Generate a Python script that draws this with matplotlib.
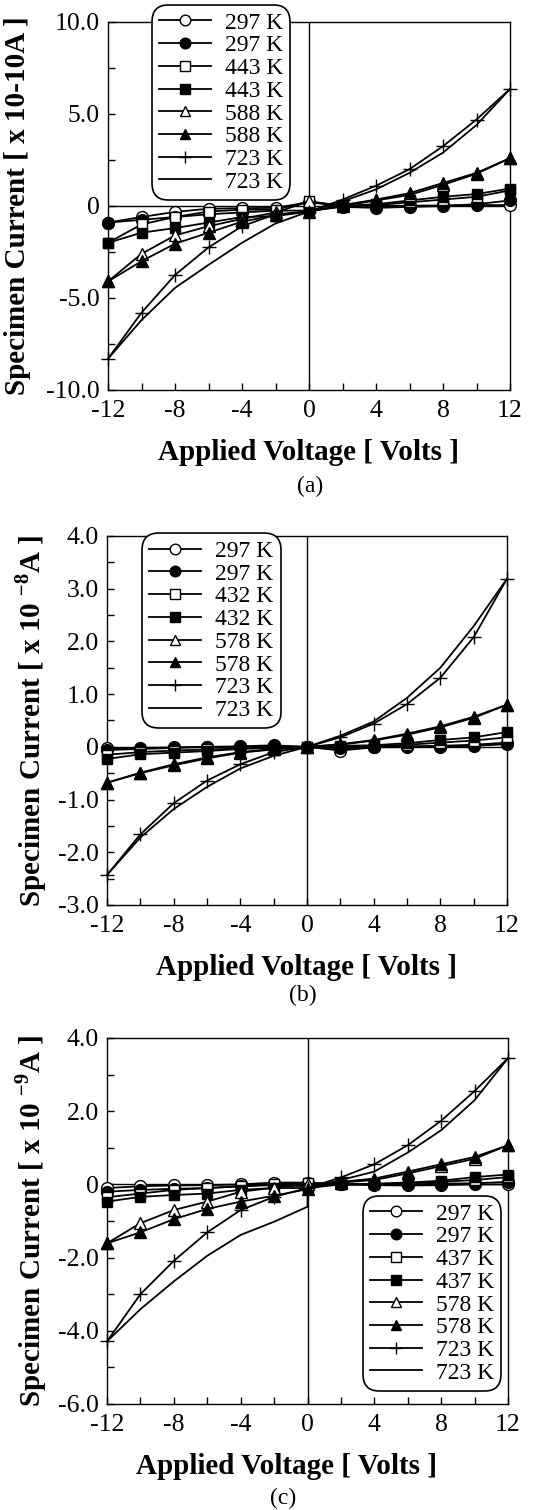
import matplotlib
matplotlib.use("Agg")
import matplotlib.pyplot as plt
from matplotlib.ticker import MultipleLocator, FuncFormatter

plt.rcParams['font.family'] = ['Liberation Serif', 'DejaVu Serif']
plt.rcParams['mathtext.fontset'] = 'custom'
plt.rcParams['mathtext.rm'] = 'Liberation Serif:bold'
plt.rcParams['mathtext.bf'] = 'Liberation Serif:bold'
plt.rcParams['axes.unicode_minus'] = False

# Datos (voltaje aplicado, V)
voltaje = [-12, -10, -8, -6, -4, -2, 0, 2, 4, 6, 8, 10, 12]

# (a) corriente x 1e-10 A
temps_a = ['297 K', '297 K', '443 K', '443 K', '588 K', '588 K', '723 K', '723 K']
a_o297 = [-0.9, -0.6, -0.32, -0.15, -0.12, -0.1, 0.2, 0.0, 0.0, 0.02, 0.03, 0.05, 0.05]
a_f297 = [-0.9, -0.75, -0.6, -0.45, -0.35, -0.25, -0.25, -0.05, -0.1, -0.05, 0.0, 0.1, 0.3]
a_o443 = [-2.0, -1.0, -0.6, -0.3, -0.2, -0.2, 0.25, 0.0, 0.05, 0.2, 0.35, 0.5, 0.85]
a_f443 = [-2.0, -1.45, -1.2, -0.9, -0.6, -0.55, -0.3, 0.0, 0.1, 0.3, 0.5, 0.65, 0.95]
a_o588 = [-4.1, -2.6, -1.6, -1.1, -0.7, -0.35, 0.25, 0.0, 0.3, 0.6, 1.15, 1.75, 2.6]
a_f588 = [-4.1, -3.0, -2.05, -1.45, -0.85, -0.5, -0.3, 0.05, 0.35, 0.7, 1.25, 1.8, 2.6]
a_p723 = [-8.3, -5.8, -3.75, -2.25, -1.1, -0.45, -0.3, 0.35, 1.1, 2.0, 3.25, 4.7, 6.36]
a_l723 = [-8.3, -6.2, -4.45, -3.2, -2.0, -0.95, -0.3, 0.25, 0.9, 1.8, 2.9, 4.4, 6.36]

# (b) corriente x 1e-8 A
temps_b = ['297 K', '297 K', '432 K', '432 K', '578 K', '578 K', '723 K', '723 K']
b_o297 = [-0.03, -0.02, -0.01, 0.0, 0.0, 0.01, 0.0, -0.07, -0.01, 0.0, 0.0, 0.02, 0.05]
b_f297 = [-0.06, -0.04, -0.02, 0.0, 0.01, 0.03, 0.0, -0.03, 0.0, 0.01, 0.02, 0.04, 0.08]
b_o432 = [-0.15, -0.1, -0.07, -0.05, -0.03, -0.01, 0.0, 0.0, 0.01, 0.04, 0.08, 0.12, 0.18]
b_f432 = [-0.23, -0.14, -0.11, -0.08, -0.04, -0.02, 0.0, 0.02, 0.03, 0.07, 0.13, 0.18, 0.28]
b_o578 = [-0.68, -0.5, -0.35, -0.22, -0.11, -0.05, 0.0, 0.04, 0.12, 0.23, 0.37, 0.55, 0.8]
b_f578 = [-0.68, -0.49, -0.33, -0.2, -0.1, -0.04, 0.0, 0.05, 0.13, 0.25, 0.39, 0.57, 0.8]
b_p723 = [-2.43, -1.66, -1.07, -0.64, -0.33, -0.1, 0.0, 0.18, 0.44, 0.81, 1.31, 2.08, 3.19]
b_l723 = [-2.43, -1.72, -1.18, -0.76, -0.41, -0.17, 0.0, 0.21, 0.48, 0.93, 1.5, 2.29, 3.19]

# (c) corriente x 1e-9 A
temps_c = ['297 K', '297 K', '437 K', '437 K', '578 K', '578 K', '723 K', '723 K']
c_o297 = [-0.1, -0.05, -0.03, -0.02, 0.0, 0.05, 0.05, 0.0, -0.02, -0.03, -0.02, 0.0, 0.0]
c_f297 = [-0.2, -0.15, -0.12, -0.1, -0.05, -0.02, -0.05, 0.0, 0.0, 0.0, 0.02, 0.03, 0.07]
c_o437 = [-0.35, -0.25, -0.15, -0.1, -0.05, 0.0, 0.05, 0.0, 0.0, 0.03, 0.07, 0.12, 0.2]
c_f437 = [-0.47, -0.34, -0.29, -0.25, -0.15, -0.1, -0.1, 0.0, 0.02, 0.05, 0.1, 0.2, 0.27]
c_o578 = [-1.61, -1.06, -0.7, -0.47, -0.2, -0.09, 0.0, 0.05, 0.12, 0.3, 0.5, 0.7, 1.07]
c_f578 = [-1.61, -1.31, -0.95, -0.67, -0.47, -0.31, -0.13, 0.07, 0.16, 0.35, 0.55, 0.75, 1.07]
c_p723 = [-4.29, -3.0, -2.09, -1.31, -0.7, -0.34, -0.1, 0.19, 0.55, 1.07, 1.74, 2.55, 3.45]
voltaje_c_l723 = [-12, -10, -8, -6, -4, -2, 0, 0, 2, 4, 6, 8, 10, 12]
c_l723 = [-4.29, -3.41, -2.65, -1.95, -1.38, -1.02, -0.61, -0.1, 0.12, 0.35, 0.87, 1.48, 2.3, 3.45]

# estilos: (marcador, relleno)
estilos = [('o', 'white'), ('o', 'black'), ('s', 'white'), ('s', 'black'),
           ('^', 'white'), ('^', 'black'), ('+', 'black'), ('None', 'black')]

W, H = 533, 1510
fig = plt.figure(figsize=(W / 100, H / 100), dpi=100)


def fmt(v, pos):
    if abs(v) < 1e-9:
        return '0'
    return '%.1f' % v


def panel(rect, series, xs, etiquetas, ylim, ymajor, yminor, ylabel,
          leg_anchor, ylab_x, xlab_x, caption, cap_xy):
    l, b, r, t = rect
    ax = fig.add_axes([l / W, 1 - b / H, (r - l) / W, (b - t) / H])
    ax.axhline(0, color='black', lw=1.0, zorder=1)
    ax.axvline(0, color='black', lw=1.0, zorder=1)
    for (mk, fc), ys, x, lab in zip(estilos, series, xs, etiquetas):
        ms = 10 if mk == '+' else (7.5 if mk == 's' else 8.5)
        ax.plot(x, ys, color='black', lw=1.3, marker=mk, markersize=ms,
                markerfacecolor=fc, markeredgecolor='black', markeredgewidth=1.0,
                label=lab, clip_on=False, zorder=3)
    ax.set_xlim(-12, 12)
    ax.set_ylim(*ylim)
    ax.xaxis.set_major_locator(MultipleLocator(4))
    ax.xaxis.set_minor_locator(MultipleLocator(2))
    ax.yaxis.set_major_locator(MultipleLocator(ymajor))
    ax.yaxis.set_minor_locator(MultipleLocator(yminor))
    ax.yaxis.set_major_formatter(FuncFormatter(fmt))
    ax.xaxis.set_major_formatter(FuncFormatter(lambda v, p: '%d' % v))
    ax.tick_params(which='both', direction='in', top=False, right=False,
                   length=5, width=1, labelsize=18.5)
    ax.tick_params(axis='y', pad=6)
    ax.tick_params(axis='x', pad=7)
    for s in ax.spines.values():
        s.set_linewidth(1.0)
    ax.set_xlabel('Applied Voltage [ Volts ]', fontsize=21, fontweight='bold', va='center')
    ax.xaxis.set_label_coords(xlab_x, -63 / ((b - t)))
    ax.set_ylabel(ylabel, fontsize=21, fontweight='bold', va='center')
    ax.yaxis.set_label_coords(ylab_x, 0.5)
    leg = ax.legend(loc='upper left', bbox_to_anchor=leg_anchor, fontsize=17,
                    frameon=True, fancybox=True, edgecolor='black', framealpha=1,
                    handlelength=2.2, handletextpad=0.6, labelspacing=0.05,
                    borderpad=0.3, borderaxespad=0, markerscale=0.9)
    leg.get_frame().set_linewidth(1.2)
    leg.get_frame().set_boxstyle('round', pad=0, rounding_size=0.7)
    leg.set_zorder(5)
    fig.text(cap_xy[0] / W, 1 - cap_xy[1] / H, caption, fontsize=17,
             ha='center', va='center')
    return ax


panel((108, 390, 510, 22),
      [a_o297, a_f297, a_o443, a_f443, a_o588, a_f588, a_p723, a_l723],
      [voltaje] * 8, temps_a, (-10, 10), 5, 2.5,
      'Specimen Current [ x 10-10A ]', (0.109, 1.046), -0.224, 0.5,
      '(a)', (310, 486))

panel((107, 905, 507, 536),
      [b_o297, b_f297, b_o432, b_f432, b_o578, b_f578, b_p723, b_l723],
      [voltaje] * 8, temps_b, (-3, 4), 1, 0.5,
      r'Specimen Current [ x 10 $^{-8}$A ]', (0.088, 1.007), -0.19, 0.5,
      '(b)', (303, 995))

panel((107, 1404, 508, 1038),
      [c_o297, c_f297, c_o437, c_f437, c_o578, c_f578, c_p723, c_l723],
      [voltaje] * 7 + [voltaje_c_l723], temps_c, (-6, 4), 2, 1,
      r'Specimen Current [ x 10 $^{-9}$A ]', (0.638, 0.568), -0.19, 0.448,
      '(c)', (283, 1498))

fig.savefig('out.png', dpi=100)
